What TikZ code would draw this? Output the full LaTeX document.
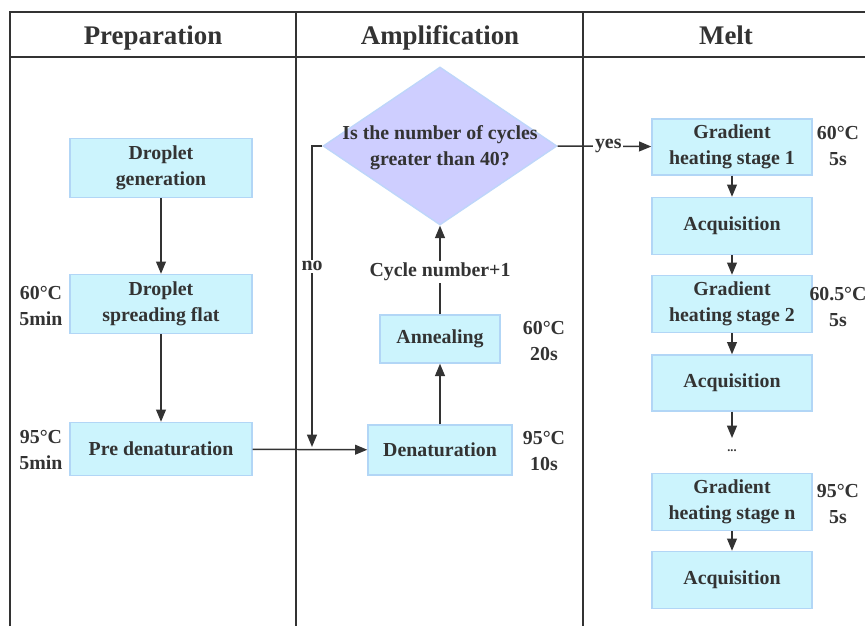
\documentclass[tikz,border=0pt]{standalone}
\usepackage{fontspec}
\setmainfont{Liberation Serif}
\usepackage{xcolor}
\usetikzlibrary{arrows.meta,shapes.geometric,positioning}
\definecolor{boxfill}{RGB}{204,244,253}
\definecolor{boxline}{RGB}{178,214,246}
\definecolor{diafill}{RGB}{206,206,255}
\definecolor{dialine}{RGB}{190,214,250}
\definecolor{ink}{RGB}{51,51,51}
\newcommand{\bodyfont}{\fontsize{11.3}{14.7}\selectfont\bfseries}
\newcommand{\headfont}{\fontsize{15.3}{18}\selectfont\bfseries}
\tikzset{Box/.style={rectangle,fill=boxfill,draw=boxline,line width=0.8pt,align=center,font=\bodyfont,text=ink,inner sep=0pt},
  Dia/.style={diamond,fill=diafill,draw=dialine,line width=0.8pt,inner sep=0pt},
  Lab/.style={align=center,font=\bodyfont,text=ink,inner sep=1pt},
  Head/.style={font=\headfont,text=ink,anchor=base},
  Frame/.style={draw=ink,line width=0.9pt},
  Arr/.style={draw=ink,line width=0.85pt,-{Triangle[length=7pt,width=5.6pt]}}}

\begin{document}
\begin{tikzpicture}[x=0.02cm,y=-0.02cm]
    \useasboundingbox (0,0) rectangle (865,626);
    \begin{scope}[Frame]
      \draw (10,626) |- (865,12);
      \draw (10,57) -- (865,57);
      \draw (296,12) -- (296,626);
      \draw (583,12) -- (583,626);
    \end{scope}
    \node[Head] (hprep) at (153,44) {Preparation};
    \node[Head] (hamp) at (440,44) {Amplification};
    \node[Head] (hmelt) at (726,44) {Melt};
    \node[Box,minimum width=3.64cm,minimum height=1.18cm] (prep1) at (161,168) {Droplet\\generation};
    \node[Box,minimum width=3.64cm,minimum height=1.18cm] (prep2) at (161,304) {Droplet\\spreading flat};
    \node[Box,minimum width=3.64cm,minimum height=1.06cm] (prep3) at (161,449) {Pre denaturation};
    \node[Lab] (t1) at (41,306) {60°C\\5min};
    \node[Lab] (t2) at (41,450) {95°C\\5min};
    \node[Dia,minimum width=4.68cm,minimum height=3.16cm] (dec) at (440,146) {};
    \node[Lab] (dectxt) at (440,148) {Is the number of cycles\\greater than 40?};
    \node[Box,minimum width=2.4cm,minimum height=0.96cm] (ann) at (440,339) {Annealing};
    \node[Box,minimum width=2.88cm,minimum height=1cm] (den) at (440,450) {Denaturation};
    \node[Lab] (t3) at (544,341) {60°C\\20s};
    \node[Lab] (t4) at (544,451) {95°C\\10s};
    \coordinate (nojoin) at (312,447);
    \node[Box,minimum width=3.2cm,minimum height=1.12cm] (g1) at (732,147) {Gradient\\heating stage 1};
    \node[Box,minimum width=3.2cm,minimum height=1.14cm] (a1) at (732,226) {Acquisition};
    \node[Box,minimum width=3.2cm,minimum height=1.14cm] (g2) at (732,304) {Gradient\\heating stage 2};
    \node[Box,minimum width=3.2cm,minimum height=1.12cm] (a2) at (732,383) {Acquisition};
    \coordinate (dotsin) at (732,438);
    \node[Lab,font=\scriptsize\bfseries] (dots) at (732,451) {...};
    \node[Box,minimum width=3.2cm,minimum height=1.14cm] (gn) at (732,502) {Gradient\\heating stage n};
    \node[Box,minimum width=3.2cm,minimum height=1.14cm] (a3) at (732,580) {Acquisition};
    \node[Lab] (t5) at (838,146) {60°C\\5s};
    \node[Lab] (t6) at (838,307) {60.5°C\\5s};
    \node[Lab] (t7) at (838,504) {95°C\\5s};
    \begin{scope}[Arr]
      \draw (prep1) -- (prep2);
      \draw (prep2) -- (prep3);
      \draw (prep3) -- (den);
      \draw (den) -- (ann);
      \draw (ann) -- (dec) node[Lab,pos=.48,fill=white] (cyc) {Cycle number+1};
      \draw (dec.west) -| (nojoin) node[Lab,pos=.7,fill=white] (no) {no};
      \draw (dec.east) -- (g1) node[Lab,pos=.54,fill=white] (yes) {yes};
      \draw (g1) -- (a1);
      \draw (a1) -- (g2);
      \draw (g2) -- (a2);
      \draw (a2) -- (dotsin);
      \draw (gn) -- (a3);
    \end{scope}
  \end{tikzpicture}
\end{document}
